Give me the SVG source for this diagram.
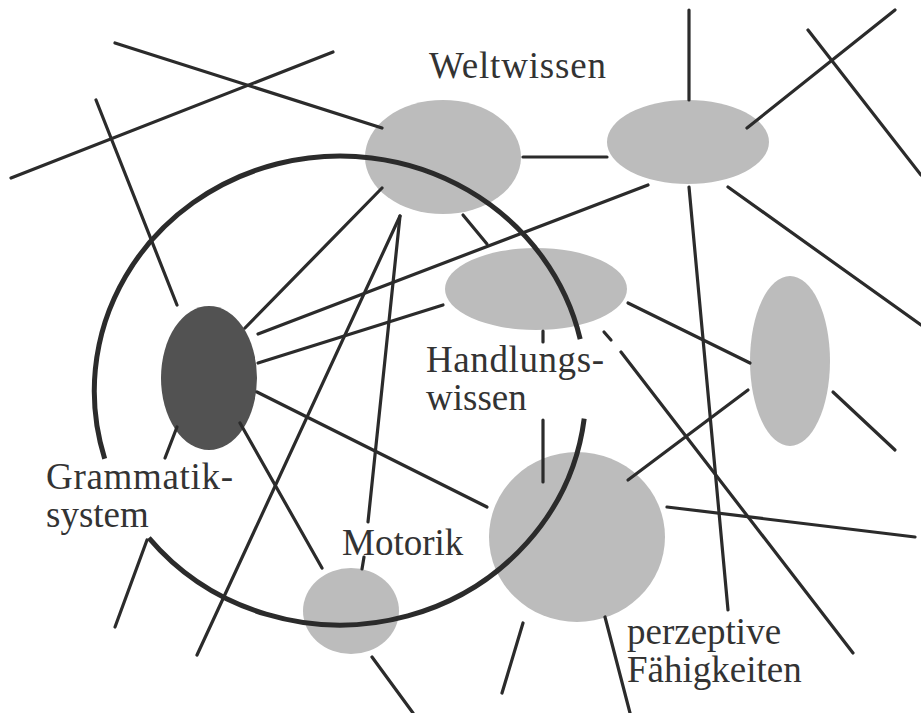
<svg xmlns="http://www.w3.org/2000/svg" width="921" height="713" viewBox="0 0 921 713">
<style>
.blob{fill:#bcbcbc}
.dark{fill:#525252}
.ln{stroke:#2b2b2b;stroke-width:3.2;stroke-linecap:round;fill:none}
.arc{stroke:#2b2b2b;stroke-width:5;fill:none}
.lbl{font-family:"Liberation Serif","Times New Roman",serif;font-size:37px;fill:#333}
</style>
<rect width="921" height="713" fill="#ffffff"/>
<g id="nodes">
<g id="weltwissen"><ellipse class="blob" cx="443" cy="157" rx="78" ry="57"/><text class="lbl" x="429" y="78" textLength="177">Weltwissen</text></g>
<g id="welt2"><ellipse class="blob" cx="688" cy="142" rx="81" ry="42"/></g>
<g id="handlungswissen"><ellipse class="blob" cx="536" cy="289" rx="91" ry="41"/><text class="lbl" x="426" y="372" textLength="178">Handlungs-</text><text class="lbl" x="426" y="410">wissen</text></g>
<g id="vertical"><ellipse class="blob" cx="790" cy="361" rx="40" ry="85"/></g>
<g id="grammatik"><ellipse class="dark" cx="209" cy="378" rx="48" ry="72"/><text class="lbl" x="46" y="489" textLength="187">Grammatik-</text><text class="lbl" x="46" y="527">system</text></g>
<g id="perzeptiv"><ellipse class="blob" cx="577" cy="537" rx="88" ry="85"/><text class="lbl" x="627" y="644">perzeptive</text><text class="lbl" x="627" y="682">Fähigkeiten</text></g>
<g id="motorik"><ellipse class="blob" cx="351" cy="611" rx="48" ry="43"/><text class="lbl" x="342" y="555">Motorik</text></g>
</g>
<g id="connectors">
<line class="ln" x1="115" y1="43" x2="382" y2="128"/>
<line class="ln" x1="11" y1="178" x2="333" y2="52"/>
<line class="ln" x1="96" y1="100" x2="177" y2="305"/>
<line class="ln" x1="245" y1="328" x2="382" y2="188"/>
<line class="ln" x1="258" y1="334" x2="648" y2="185"/>
<line class="ln" x1="258" y1="363" x2="443" y2="305"/>
<line class="ln" x1="400" y1="216" x2="368" y2="522"/>
<line class="ln" x1="400" y1="216" x2="197" y2="655"/>
<line class="ln" x1="463" y1="215" x2="487" y2="244"/>
<line class="ln" x1="523" y1="157" x2="607" y2="157"/>
<line class="ln" x1="689" y1="10" x2="689" y2="100"/>
<line class="ln" x1="747" y1="128" x2="895" y2="10"/>
<line class="ln" x1="808" y1="30" x2="921" y2="175"/>
<line class="ln" x1="728" y1="187" x2="921" y2="325"/>
<line class="ln" x1="689" y1="187" x2="728" y2="610"/>
<line class="ln" x1="628" y1="303" x2="750" y2="363"/>
<line class="ln" x1="604" y1="332" x2="611" y2="340"/>
<line class="ln" x1="621" y1="352" x2="853" y2="653"/>
<line class="ln" x1="543" y1="331" x2="543" y2="342"/>
<line class="ln" x1="543" y1="420" x2="543" y2="482"/>
<line class="ln" x1="748" y1="390" x2="628" y2="480"/>
<line class="ln" x1="833" y1="392" x2="895" y2="450"/>
<line class="ln" x1="667" y1="507" x2="915" y2="537"/>
<line class="ln" x1="257" y1="392" x2="487" y2="507"/>
<line class="ln" x1="240" y1="423" x2="322" y2="568"/>
<line class="ln" x1="177" y1="427" x2="165" y2="458"/>
<line class="ln" x1="115" y1="627" x2="147" y2="540"/>
<line class="ln" x1="364" y1="557" x2="362" y2="569"/>
<line class="ln" x1="372" y1="657" x2="413" y2="713"/>
<line class="ln" x1="523" y1="623" x2="502" y2="693"/>
<line class="ln" x1="605" y1="617" x2="630" y2="713"/>
</g>
<g id="boundary">
<path class="arc" d="M 584.2 418.6 A 246 235 0 0 1 148.8 537.9"/>
<path class="arc" d="M 104.7 458.7 A 246 235 0 1 1 580.2 339.1"/>
</g>
</svg>
